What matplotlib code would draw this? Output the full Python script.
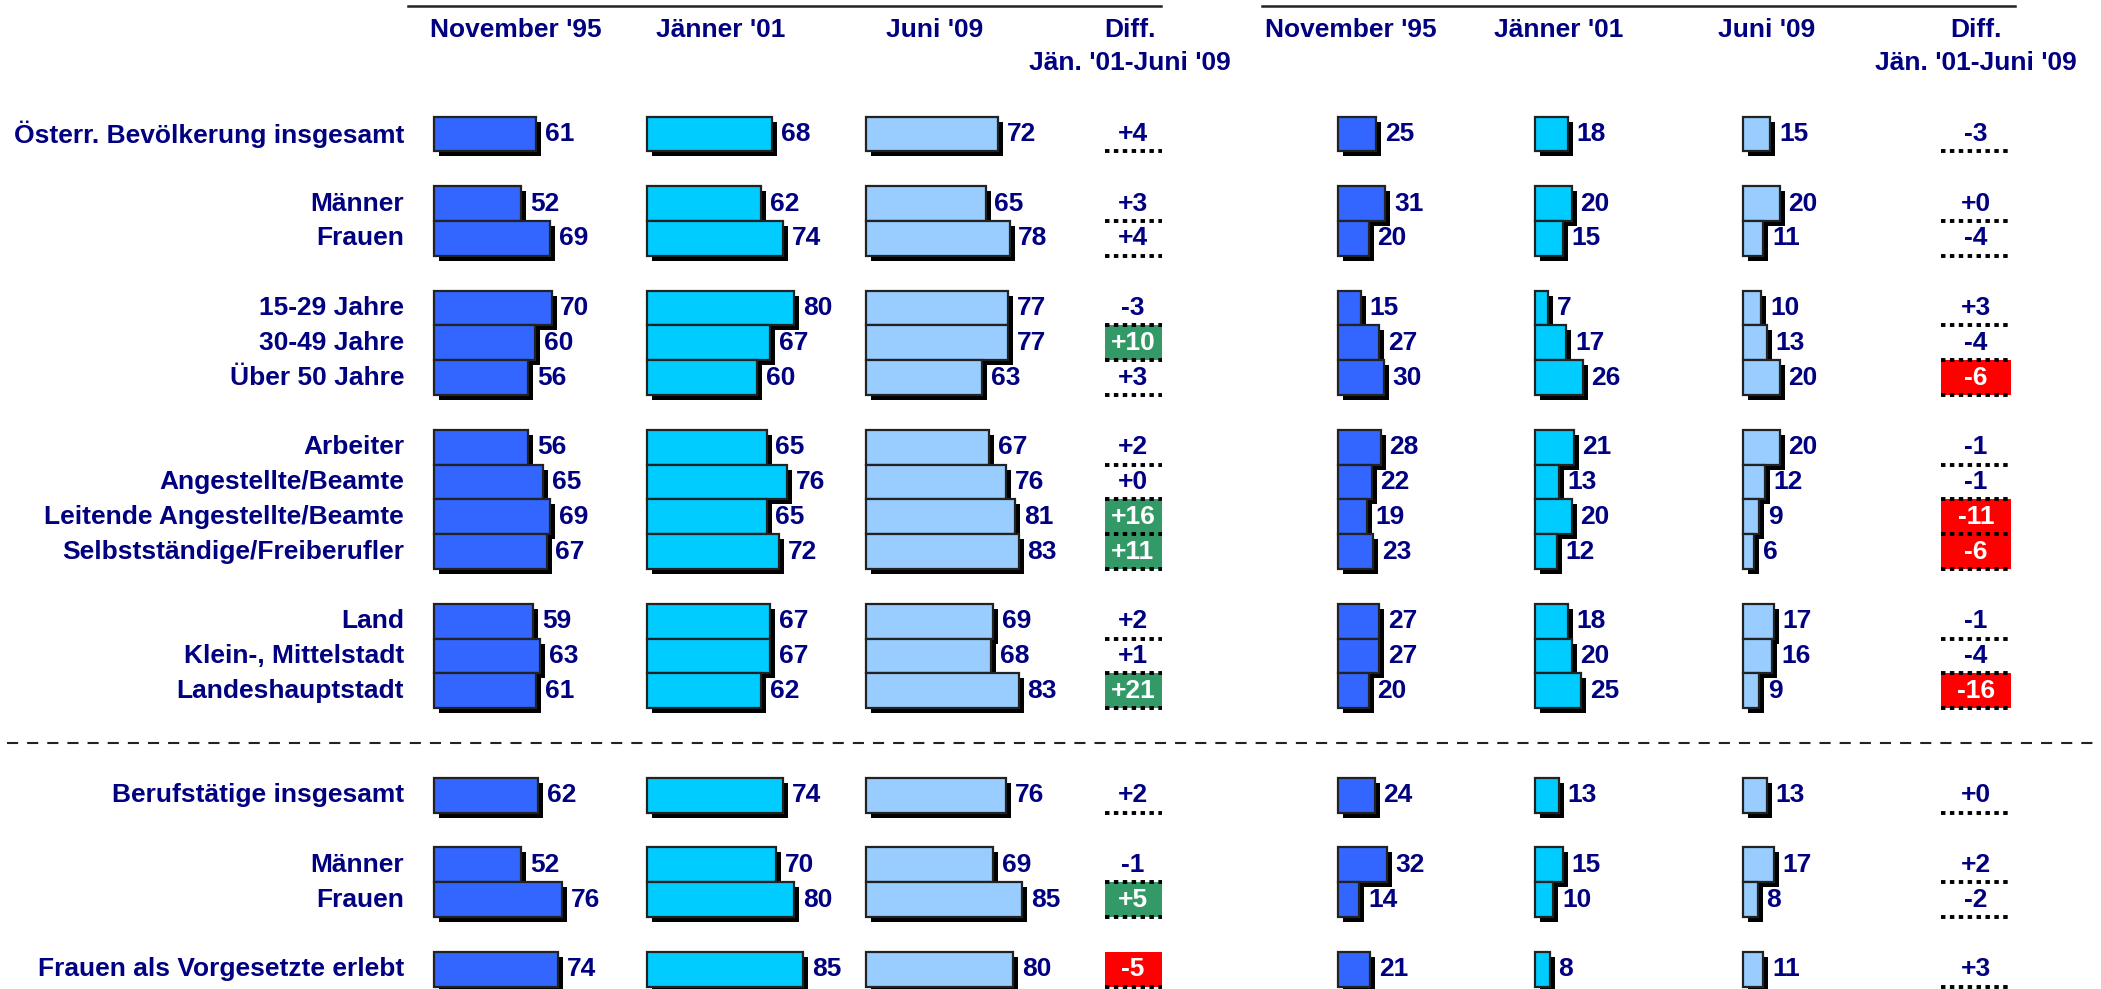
import matplotlib
matplotlib.use("Agg")
import matplotlib.pyplot as plt
import matplotlib.patheffects as pe
from matplotlib.patches import Rectangle

# ── Data ────────────────────────────────────────────────
labels = ["Österr. Bevölkerung insgesamt", "Männer", "Frauen",
          "15-29 Jahre", "30-49 Jahre", "Über 50 Jahre",
          "Arbeiter", "Angestellte/Beamte", "Leitende Angestellte/Beamte",
          "Selbstständige/Freiberufler",
          "Land", "Klein-, Mittelstadt", "Landeshauptstadt",
          "Berufstätige insgesamt", "Männer", "Frauen",
          "Frauen als Vorgesetzte erlebt"]
# row slot of every label (blank slots separate the groups)
row_slot = [0, 2, 3, 5, 6, 7, 9, 10, 11, 12, 14, 15, 16, 19, 21, 22, 24]

periods = ["November '95", "Jänner '01", "Juni '09"]
diff_head = ["Diff.", "Jän. '01-Juni '09"]

# left block
nov95_a = [61, 52, 69, 70, 60, 56, 56, 65, 69, 67, 59, 63, 61, 62, 52, 76, 74]
jan01_a = [68, 62, 74, 80, 67, 60, 65, 76, 65, 72, 67, 67, 62, 74, 70, 80, 85]
jun09_a = [72, 65, 78, 77, 77, 63, 67, 76, 81, 83, 69, 68, 83, 76, 69, 85, 80]
diff_a = [4, 3, 4, -3, 10, 3, 2, 0, 16, 11, 2, 1, 21, 2, -1, 5, -5]

# right block
nov95_b = [25, 31, 20, 15, 27, 30, 28, 22, 19, 23, 27, 27, 20, 24, 32, 14, 21]
jan01_b = [18, 20, 15, 7, 17, 26, 21, 13, 20, 12, 18, 20, 25, 13, 15, 10, 8]
jun09_b = [15, 20, 11, 10, 13, 20, 20, 12, 9, 6, 17, 16, 9, 13, 17, 8, 11]
diff_b = [-3, 0, -4, 3, -4, -6, -1, -1, -11, -6, -1, -4, -16, 0, 2, -2, 3]

# ── Style ───────────────────────────────────────────────
W, H = 2101, 989
NAVY = "#000080"
C_NOV, C_JAN, C_JUN = "#3366FF", "#00CCFF", "#99CCFF"
GREEN, RED = "#339966", "#FF0000"
FS = 19

plt.rcParams["font.family"] = ["Liberation Sans", "DejaVu Sans"]
plt.rcParams["font.weight"] = "bold"
plt.rcParams["lines.scale_dashes"] = False

ROW0, STEP = 134, 34.8
ys = [ROW0 + STEP * s for s in row_slot]

fig = plt.figure(figsize=(W / 100, H / 100), dpi=100)
base = fig.add_axes([0, 0, 1, 1])
base.set_xlim(0, W)
base.set_ylim(H, 0)
base.axis("off")


def bar_column(x0, px_per_unit, values, color):
    span = 250
    ax = fig.add_axes([x0 / W, 0, span / W, 1])
    ax.set_xlim(0, span / px_per_unit)
    ax.set_ylim(H, 0)
    ax.axis("off")
    bars = ax.barh(ys, values, height=STEP, color=color, edgecolor="#222222",
                   linewidth=1.6, clip_on=False)
    for b in bars:
        b.set_path_effects([pe.SimplePatchShadow(offset=(3.6, -3.6),
                                                 shadow_rgbFace="black", alpha=1.0),
                            pe.Normal()])
    for y, v in zip(ys, values):
        ax.annotate(str(v), (v, y), xytext=(6.3, 0), textcoords="offset points",
                    ha="left", va="center", fontsize=FS, color=NAVY,
                    fontweight="bold", annotation_clip=False)
    return ax


def diff_column(xc, width, diffs):
    for y, d in zip(ys, diffs):
        txt = f"+{d}" if d >= 0 else str(d)
        top, bot = y - STEP / 2, y + STEP / 2
        tcol = NAVY
        if abs(d) >= 5:
            base.add_patch(Rectangle((xc - width / 2, top), width, STEP,
                                     facecolor=GREEN if d > 0 else RED,
                                     edgecolor="none", zorder=2))
            tcol = "white"
        base.plot([xc - width / 2, xc + width / 2], [bot, bot], color="black",
                  lw=2.8, dashes=(3.2, 3.2), dash_capstyle="butt", zorder=3)
        base.text(xc, y, txt, ha="center", va="center", fontsize=FS,
                  color=tcol, fontweight="bold", zorder=4)


# row labels
for y, lab in zip(ys, labels):
    base.text(404, y, lab, ha="right", va="center", fontsize=FS, color=NAVY,
              fontweight="bold")

# left block
bar_column(434, 1.68, nov95_a, C_NOV)
bar_column(647, 1.84, jan01_a, C_JAN)
bar_column(866, 1.84, jun09_a, C_JUN)
diff_column(1133, 57, diff_a)

# right block
bar_column(1338, 1.53, nov95_b, C_NOV)
bar_column(1535, 1.84, jan01_b, C_JAN)
bar_column(1743, 1.83, jun09_b, C_JUN)
diff_column(1976, 70, diff_b)

# headers
for xs, xd in [([516, 721, 935], 1130), ([1351, 1559, 1767], 1976)]:
    for x, p in zip(xs, periods):
        base.text(x, 30, p, ha="center", va="center", fontsize=FS, color=NAVY)
    base.text(xd, 30, diff_head[0], ha="center", va="center", fontsize=FS, color=NAVY)
    base.text(xd, 63, diff_head[1], ha="center", va="center", fontsize=FS, color=NAVY)

base.plot([408, 1161], [6, 6], color="#222222", lw=1.8)
base.plot([1262, 2015], [6, 6], color="#222222", lw=1.8)

# separator between population and working people
sep_y = ROW0 + STEP * 17.5
base.plot([7, 2094], [sep_y, sep_y], color="#222222", lw=1.5, dashes=(8, 6.5))

fig.savefig("out.png", dpi=100)
